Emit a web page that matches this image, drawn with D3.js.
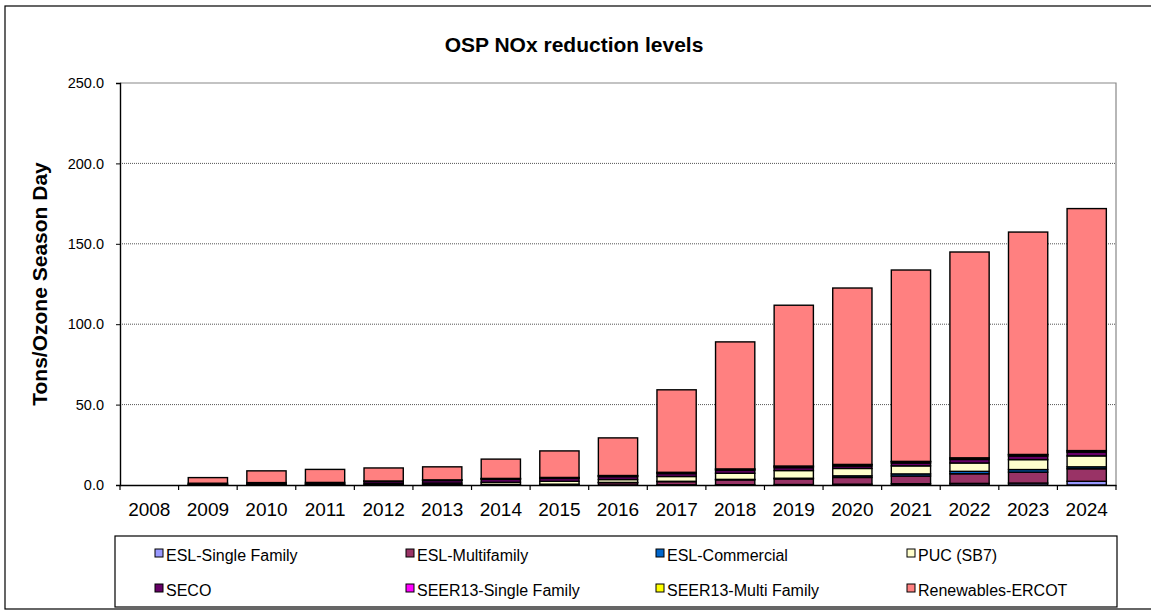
<!DOCTYPE html>
<html>
<head>
<meta charset="utf-8">
<script src="https://cdn.jsdelivr.net/npm/d3@7"></script>
<style>
  body { margin: 0; background: #fff; }
  text { font-family: "Liberation Sans", Arial, sans-serif; }
</style>
</head>
<body>
<div id="chart"></div>
<script>
// OSP NOx reduction levels, tons per ozone season day

var years = ["2008","2009","2010","2011","2012","2013","2014","2015","2016",
             "2017","2018","2019","2020","2021","2022","2023","2024"];

var seriesNames = ["ESL-Single Family", "ESL-Multifamily", "ESL-Commercial", "PUC (SB7)",
                   "SECO", "SEER13-Single Family", "SEER13-Multi Family", "Renewables-ERCOT"];
var seriesColors = ["#9999FF", "#993366", "#0066CC", "#FFFFCC",
                    "#660066", "#FF00FF", "#FFFF00", "#FF8080"];

var eslSingle   = [0, 0,   0,   0,   0,   0,   0,   0,   0,   0.1, 0.2, 0.3, 0.5, 0.8, 1.0, 1.2, 2.3];
var eslMulti    = [0, 0.2, 0.3, 0.3, 0.3, 0.3, 0.4, 0.5, 1.5, 2.0, 3.0, 3.5, 4.2, 4.8, 6.0, 6.8, 7.8];
var eslComm     = [0, 0,   0,   0,   0,   0,   0,   0,   0.1, 0.2, 0.3, 0.4, 1.0, 1.3, 1.5, 1.6, 1.2];
var puc         = [0, 0.2, 0.3, 0.4, 0.8, 0.9, 1.3, 1.8, 1.8, 3.0, 3.8, 4.8, 4.6, 5.0, 5.2, 6.2, 6.8];
var seco        = [0, 0.7, 0.9, 0.9, 1.2, 1.6, 1.8, 1.8, 1.8, 1.8, 1.8, 1.8, 1.5, 1.8, 2.2, 2.2, 2.3];
var seer13SF    = [0, 0,   0,   0,   0.1, 0.3, 0.4, 0.4, 0.5, 0.6, 0.7, 0.8, 0.8, 0.8, 0.8, 0.8, 0.8];
var seer13MF    = [0, 0,   0,   0,   0.1, 0.1, 0.2, 0.2, 0.2, 0.2, 0.2, 0.2, 0.2, 0.2, 0.2, 0.2, 0.2];
var renewables  = [0, 3.5, 7.3, 8.1, 8.1, 8.1, 12.0, 16.5, 23.4, 51.3, 79.0, 100.0, 109.7, 119.0, 128.0, 138.3, 150.5];

var yTicks = [0, 50, 100, 150, 200, 250];

var allSeries = [eslSingle, eslMulti, eslComm, puc, seco, seer13SF, seer13MF, renewables];

var W = 1151, H = 611;
var plot = { left: 120, right: 1116, top: 83, bottom: 485 };

var svg = d3.select("#chart").append("svg")
  .attr("width", W)
  .attr("height", H);

// outer frame
svg.append("rect")
  .attr("x", 5).attr("y", 6)
  .attr("width", 1170).attr("height", 603)
  .attr("fill", "#fff")
  .attr("stroke", "#000")
  .attr("stroke-width", 1.2);

// rows for the stack
var rows = years.map(function(y, i) {
  var r = { year: y };
  seriesNames.forEach(function(n, k) { r[n] = allSeries[k][i]; });
  return r;
});
var stacked = d3.stack().keys(seriesNames)(rows);

var x = d3.scaleBand()
  .domain(years)
  .range([plot.left, plot.right])
  .paddingInner(0.33)
  .paddingOuter(0.165);

var y = d3.scaleLinear()
  .domain([0, 250])
  .range([plot.bottom, plot.top]);

// gridlines
svg.append("g")
  .selectAll("line")
  .data(yTicks.slice(1, -1))
  .enter().append("line")
  .attr("x1", plot.left).attr("x2", plot.right)
  .attr("y1", function(d) { return y(d); })
  .attr("y2", function(d) { return y(d); })
  .attr("stroke", "#555")
  .attr("stroke-width", 1)
  .attr("stroke-dasharray", "1,1");

// plot area top / right border
svg.append("path")
  .attr("d", "M" + plot.left + "," + plot.top + "H" + plot.right + "V" + plot.bottom)
  .attr("fill", "none")
  .attr("stroke", "#888")
  .attr("stroke-width", 1.2);

// bars
var layers = svg.append("g")
  .selectAll("g")
  .data(stacked)
  .enter().append("g")
  .attr("fill", function(d, i) { return seriesColors[i]; });

layers.selectAll("rect")
  .data(function(d) { return d; })
  .enter().append("rect")
  .filter(function(d) { return d[1] - d[0] > 0; })
  .attr("x", function(d) { return x(d.data.year); })
  .attr("width", x.bandwidth())
  .attr("y", function(d) { return y(d[1]); })
  .attr("height", function(d) { return y(d[0]) - y(d[1]); })
  .attr("stroke", "#000")
  .attr("stroke-width", 1.4);

// y axis
var yAxis = svg.append("g")
  .attr("transform", "translate(" + plot.left + ",0)")
  .call(d3.axisLeft(y).tickValues(yTicks).tickFormat(d3.format(".1f")).tickSize(4).tickPadding(12));
yAxis.select(".domain").attr("stroke", "#000").attr("stroke-width", 1.4);
yAxis.selectAll("text")
  .attr("font-size", "14.5px")
  .attr("fill", "#000");

// x axis, ticks between categories
var xAxis = svg.append("g")
  .attr("transform", "translate(0," + plot.bottom + ")")
  .call(d3.axisBottom(x).tickSize(0).tickPadding(18));
xAxis.select(".domain").attr("stroke", "#000").attr("stroke-width", 1.4);
xAxis.selectAll("text")
  .attr("font-size", "19px")
  .attr("fill", "#000");

var boundaries = d3.range(years.length + 1).map(function(i) {
  return plot.left + i * (plot.right - plot.left) / years.length;
});
svg.append("g")
  .selectAll("line")
  .data(boundaries)
  .enter().append("line")
  .attr("x1", function(d) { return d; })
  .attr("x2", function(d) { return d; })
  .attr("y1", plot.bottom)
  .attr("y2", plot.bottom + 5)
  .attr("stroke", "#000")
  .attr("stroke-width", 1.2);

// title
svg.append("text")
  .attr("x", 574).attr("y", 52)
  .attr("text-anchor", "middle")
  .attr("font-size", "21px")
  .attr("font-weight", "bold")
  .text("OSP NOx reduction levels");

// y axis title
svg.append("text")
  .attr("transform", "translate(47," + ((plot.top + plot.bottom) / 2) + ") rotate(-90)")
  .attr("text-anchor", "middle")
  .attr("font-size", "21px")
  .attr("font-weight", "bold")
  .text("Tons/Ozone Season Day");

// legend
svg.append("rect")
  .attr("x", 115).attr("y", 536)
  .attr("width", 1002).attr("height", 71)
  .attr("fill", "#fff")
  .attr("stroke", "#000")
  .attr("stroke-width", 1.2);

var legendCols = [155, 406, 656, 907];
var legendRows = [553, 588];

var leg = svg.append("g")
  .selectAll("g")
  .data(seriesNames)
  .enter().append("g")
  .attr("transform", function(d, i) {
    return "translate(" + legendCols[i % 4] + "," + legendRows[Math.floor(i / 4)] + ")";
  });

leg.append("rect")
  .attr("x", 0).attr("y", -4)
  .attr("width", 8).attr("height", 8)
  .attr("fill", function(d, i) { return seriesColors[i]; })
  .attr("stroke", "#000")
  .attr("stroke-width", 1);

leg.append("text")
  .attr("x", 11).attr("y", 8)
  .attr("font-size", "16px")
  .text(function(d) { return d; });
</script>
</body>
</html>
